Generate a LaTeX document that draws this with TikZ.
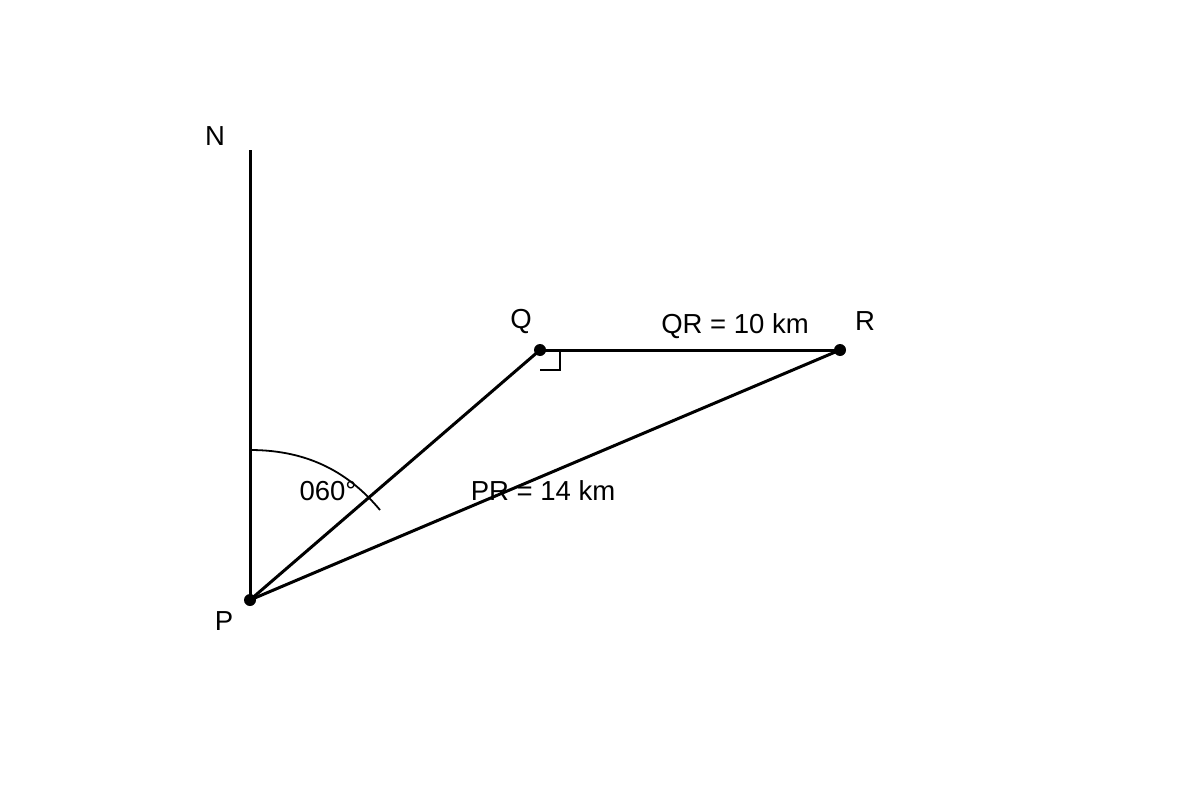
\documentclass[tikz,border=0pt]{standalone}
\usepackage{fontspec}
\setmainfont{Liberation Sans}
\begin{document}
\begin{tikzpicture}[x=1pt,y=-1pt,
  lbl/.style={font=\fontsize{27.5}{32}\selectfont, inner sep=0pt},
  pt/.style={circle, fill=black, minimum size=12pt, inner sep=0pt},
  main/.style={line width=3pt}]
\useasboundingbox[fill=white] (0,0) rectangle (1200,800);
\node[pt] (P) at (250,600) {};
\node[pt] (Q) at (540,350) {};
\node[pt] (R) at (840,350) {};
\coordinate (N) at (250,150);
\coordinate (A1) at (250,450);
\coordinate (A2) at (380,510);
\coordinate (RA1) at (540,370);
\coordinate (RA2) at (560,370);
\coordinate (RA3) at (560,350);
\draw[main] (P.center) -- (N);
\draw[main] (P.center) -- (Q.center);
\draw[main] (Q.center) -- (R.center);
\draw[main] (P.center) -- (R.center);
\draw[line width=1.8pt] (A1) .. controls (310,450) and (350,474) .. (A2);
\draw[line width=1.8pt] (RA1) -- (RA2) -- (RA3);
\node[lbl] (Nl) at (215,136) {N};
\node[lbl] (Pl) at (224,621) {P};
\node[lbl] (Ql) at (521,321) {Q};
\node[lbl] (Rl) at (865,321) {R};
\node[lbl] (ang) at (328,491) {060°};
\node[lbl] (qr) at (735,326) {QR = 10 km};
\node[lbl] (pr) at (543,491) {PR = 14 km};
\end{tikzpicture}
\end{document}
